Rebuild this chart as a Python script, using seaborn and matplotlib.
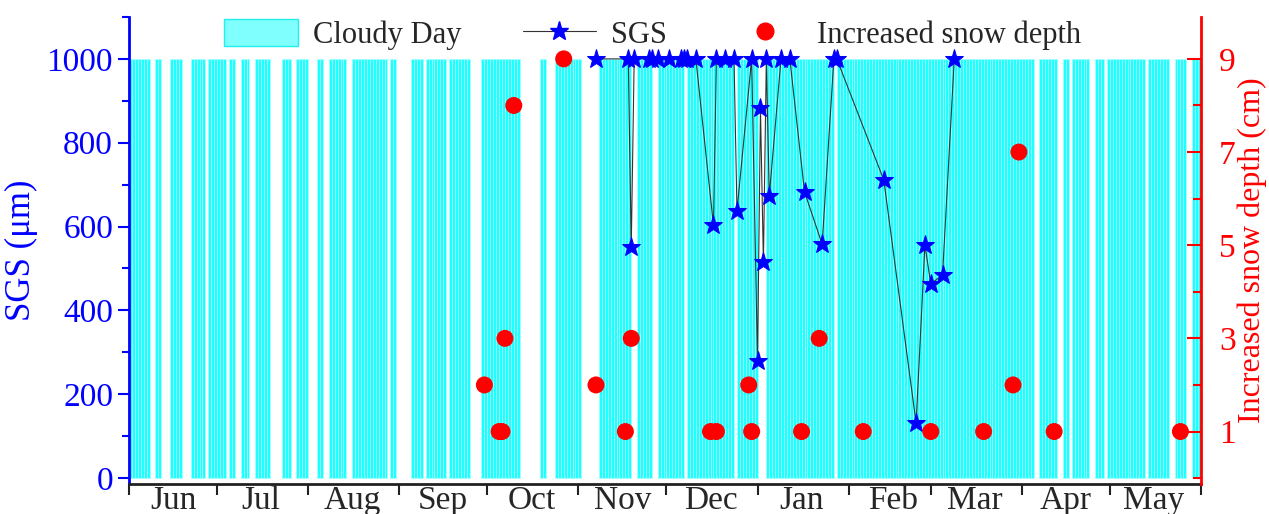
import pandas as pd
import matplotlib
matplotlib.use("Agg")
import matplotlib.pyplot as plt
import matplotlib.dates as mdates
from matplotlib.patches import Patch
from matplotlib.lines import Line2D
from matplotlib.ticker import FixedLocator, MultipleLocator, NullFormatter
import seaborn as sns

# ── Data ─────────────────────────────────────────────────────
# cloudy spells (first day, last day), both inclusive
CLOUDY_SPELLS = [
    ("2017-06-01", "2017-06-07"), ("2017-06-10", "2017-06-11"),
    ("2017-06-15", "2017-06-18"), ("2017-06-22", "2017-06-26"),
    ("2017-06-28", "2017-07-03"), ("2017-07-05", "2017-07-06"),
    ("2017-07-09", "2017-07-11"), ("2017-07-14", "2017-07-18"),
    ("2017-07-23", "2017-07-25"), ("2017-07-28", "2017-07-31"),
    ("2017-08-04", "2017-08-05"), ("2017-08-08", "2017-08-13"),
    ("2017-08-16", "2017-08-27"), ("2017-08-29", "2017-08-30"),
    ("2017-09-05", "2017-09-08"), ("2017-09-10", "2017-09-16"),
    ("2017-09-18", "2017-09-24"), ("2017-09-29", "2017-10-11"),
    ("2017-10-19", "2017-10-20"), ("2017-10-24", "2017-11-01"),
    ("2017-11-08", "2017-11-18"), ("2017-11-21", "2017-11-25"),
    ("2017-11-28", "2017-12-06"), ("2017-12-08", "2017-12-23"),
    ("2017-12-25", "2017-12-31"), ("2018-01-04", "2018-01-26"),
    ("2018-01-28", "2018-04-04"), ("2018-04-07", "2018-04-12"),
    ("2018-04-15", "2018-04-16"), ("2018-04-18", "2018-04-23"),
    ("2018-04-26", "2018-04-28"), ("2018-04-30", "2018-05-12"),
    ("2018-05-14", "2018-05-20"), ("2018-05-23", "2018-05-26"),
    ("2018-05-29", "2018-05-31"),
]
CLOUDY_HEIGHT = 1000

SGS_DATES = [
    "2017-11-07", "2017-11-18", "2017-11-19", "2017-11-20", "2017-11-25",
    "2017-11-26", "2017-11-28", "2017-12-02", "2017-12-06", "2017-12-07",
    "2017-12-08", "2017-12-11", "2017-12-17", "2017-12-18", "2017-12-21",
    "2017-12-24", "2017-12-25", "2017-12-30", "2018-01-01", "2018-01-02",
    "2018-01-03", "2018-01-04", "2018-01-05", "2018-01-09", "2018-01-12",
    "2018-01-17", "2018-01-23", "2018-01-27", "2018-01-28", "2018-02-13",
    "2018-02-24", "2018-02-27", "2018-03-01", "2018-03-05", "2018-03-09",
]
SGS_VALUES = [
    1000, 1000, 551, 1000, 1000,
    1000, 1000, 1000, 1000, 1000,
    1000, 1000, 603, 1000, 1000,
    1000, 637, 1000, 279, 883,
    515, 1000, 673, 1000, 1000,
    683, 558, 1000, 1000, 711,
    131, 556, 463, 485, 1000,
]

SNOW_DATES = [
    "2017-09-30", "2017-10-05", "2017-10-06", "2017-10-07", "2017-10-10",
    "2017-10-27", "2017-11-07", "2017-11-17", "2017-11-19", "2017-12-16",
    "2017-12-18", "2017-12-29", "2017-12-30", "2018-01-16", "2018-01-22",
    "2018-02-06", "2018-03-01", "2018-03-19", "2018-03-29", "2018-03-31",
    "2018-04-12", "2018-05-25",
]
SNOW_DEPTH = [
    2, 1, 1, 3, 8,
    9, 2, 1, 3, 1,
    1, 2, 1, 1, 3,
    1, 1, 1, 2, 7,
    1, 1,
]

LEFT_TICKS = [0, 200, 400, 600, 800, 1000]
RIGHT_TICKS = [1, 3, 5, 7, 9]

# ── Style ────────────────────────────────────────────────────
sns.set_style("ticks")
plt.rcParams["font.family"] = ["Liberation Serif", "DejaVu Serif"]

cloudy_days = pd.DatetimeIndex(
    pd.concat([pd.Series(pd.date_range(a, b)) for a, b in CLOUDY_SPELLS])
)
sgs_df = pd.DataFrame({"date": pd.to_datetime(SGS_DATES), "sgs": SGS_VALUES})
snow_df = pd.DataFrame({"date": pd.to_datetime(SNOW_DATES), "depth": SNOW_DEPTH})

fig = plt.figure(figsize=(12.69, 5.14), dpi=100)
ax = fig.add_axes([0.1017, 0.0584, 0.8447, 0.9086])

# cloudy day bars
ax.bar(cloudy_days, CLOUDY_HEIGHT, width=1, align="edge",
       color="#1FFFFF", edgecolor="#A8FFFF", linewidth=0.5, zorder=1)

# SGS line with stars
sns.lineplot(data=sgs_df, x="date", y="sgs", ax=ax, sort=False,
             color="#333333", lw=0.8, marker="*", markersize=14,
             markerfacecolor="blue", markeredgecolor="blue", zorder=3)

ax2 = ax.twinx()
sns.scatterplot(data=snow_df, x="date", y="depth", ax=ax2,
                color="red", s=150, edgecolor="none", zorder=4)

# ── Axes ─────────────────────────────────────────────────────
ax.set_xlim(pd.Timestamp("2017-06-01"), pd.Timestamp("2018-06-01"))
ax.set_ylim(-14, 1100)
ax2.set_ylim(-14 * 9 / 1000, 9.9)

ax.xaxis.set_major_locator(mdates.MonthLocator())
ax.xaxis.set_major_formatter(NullFormatter())
ax.xaxis.set_minor_locator(mdates.MonthLocator(bymonthday=16))
ax.xaxis.set_minor_formatter(mdates.DateFormatter("%b"))
ax.tick_params(axis="x", which="major", direction="out", length=8,
               width=1.5, color="#222222")
ax.tick_params(axis="x", which="minor", length=0, labelsize=24, pad=1)

ax.yaxis.set_major_locator(FixedLocator(LEFT_TICKS))
ax.yaxis.set_minor_locator(MultipleLocator(100))
ax.tick_params(axis="y", which="both", direction="out", colors="blue",
               labelsize=24, width=1.5)
ax.tick_params(axis="y", which="major", length=8)
ax.tick_params(axis="y", which="minor", length=5)

ax2.yaxis.set_major_locator(FixedLocator(RIGHT_TICKS))
ax2.yaxis.set_minor_locator(FixedLocator([0, 2, 4, 6, 8]))
ax2.tick_params(axis="y", which="both", direction="in", colors="red",
                labelsize=24, width=1.5)
ax2.tick_params(axis="y", which="major", length=10, pad=13)
ax2.tick_params(axis="y", which="minor", length=6)

ax.set_xlabel("")
ax.set_ylabel("SGS (μm)", color="blue", fontsize=25, labelpad=6)
ax2.set_xlabel("")
ax2.set_ylabel("Increased snow depth (cm)", color="red", fontsize=23,
               labelpad=1)

for a in (ax, ax2):
    a.spines["top"].set_visible(False)
ax.spines["right"].set_visible(False)
ax.spines["left"].set_color("blue")
ax.spines["left"].set_linewidth(2)
ax.spines["bottom"].set_color("#222222")
ax.spines["bottom"].set_linewidth(2)
ax2.spines["left"].set_visible(False)
ax2.spines["bottom"].set_visible(False)
ax2.spines["right"].set_color("red")
ax2.spines["right"].set_linewidth(2)

# ── Legend ───────────────────────────────────────────────────
handles = [
    Patch(facecolor="#80FFFF", edgecolor="#1FEFEF", linewidth=1),
    Line2D([], [], color="#333333", lw=0.8, marker="*", markersize=14,
           markerfacecolor="blue", markeredgecolor="blue"),
    Line2D([], [], ls="none", marker="o", markersize=12, color="red"),
]
labels = ["Cloudy Day", "SGS", "Increased snow depth"]
ax2.legend(handles, labels, loc="center", bbox_to_anchor=(0.4885, 0.962),
           ncol=3, frameon=False, fontsize=22, handlelength=2.4,
           handleheight=1.0, columnspacing=2.0, handletextpad=0.5,
           borderpad=0)

fig.savefig("out.png", dpi=100)
